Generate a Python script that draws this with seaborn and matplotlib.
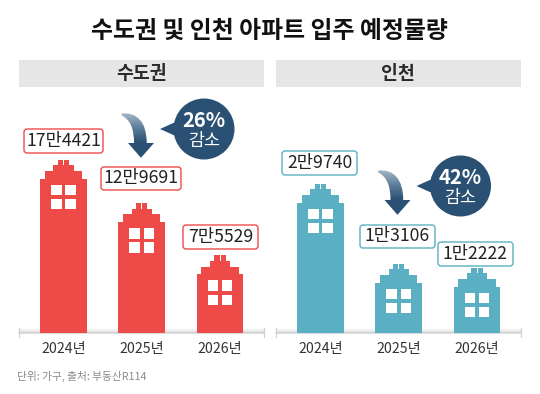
import numpy as np
import pandas as pd
import matplotlib
matplotlib.use("Agg")
import matplotlib.pyplot as plt
from matplotlib.colors import LinearSegmentedColormap
from matplotlib.patches import Circle, FancyBboxPatch, PathPatch, Polygon, Rectangle
from matplotlib.path import Path
from matplotlib.transforms import Affine2D
import seaborn as sns

years = ["2024년", "2025년", "2026년"]
capital_values = [174421, 129691, 75529]
capital_labels = ["17만4421", "12만9691", "7만5529"]
incheon_values = [29740, 13106, 12222]
incheon_labels = ["2만9740", "1만3106", "1만2222"]
panel_names = ["수도권", "인천"]
drop_labels = ["26%", "42%"]
title = "수도권 및 인천 아파트 입주 예정물량"
source = "단위: 가구, 출처: 부동산R114"

RED, TEAL, NAVY = "#EE4B48", "#5AB0C2", "#2A5173"
FONT = ["Noto Sans CJK KR", "DejaVu Sans"]
W, H = 540, 394

sns.set_theme(style="white")
plt.rcParams["font.family"] = FONT
fig = plt.figure(figsize=(W / 100, H / 100), dpi=100, facecolor="white")


def px_axes(x0, y0, x1, y1, **kw):
    return fig.add_axes([x0 / W, 1 - y1 / H, (x1 - x0) / W, (y1 - y0) / H], **kw)


def building(ax, cx, value):
    """Stepped roof and windows, cut from the bar top in pixel offsets."""
    ox, oy = ax.transData.transform((cx, value))
    tr = Affine2D().scale(1, -1).translate(ox, oy)
    kw = dict(fc="white", ec="white", lw=0, transform=tr, zorder=5)
    # (half-width kept, y start, y end) of each roof step
    for hw, y0, y1 in [(5.6, -1, 5.6), (10.2, 5.6, 11.4), (18.6, 11.4, 19)]:
        for s in (-1, 1):
            ax.add_patch(Rectangle((s * hw, y0), s * (24.5 - hw), y1 - y0, **kw))
    ax.add_patch(Rectangle((-0.5, -1), 1, 6.6, **kw))
    for wx in (-12.3, 1.8):
        for wy in (25.3, 39.4):
            ax.add_patch(Rectangle((wx, wy), 10.6, 10.3, **kw))


def panel(x0, names, values, color, ylim):
    ax = px_axes(x0, 88, x0 + 245, 333)
    df = pd.DataFrame({"year": names, "value": values})
    sns.barplot(data=df, x="year", y="value", color=color, saturation=1,
                width=0.6, ax=ax, zorder=3)
    ax.set_xlim(-0.569, 2.562)
    ax.set_ylim(*ylim)
    for p, v in zip(ax.patches, values):
        p.set_y(ylim[0])
        p.set_height(v - ylim[0])
        p.set_linewidth(0)
    ax.patch.set_alpha(0)
    ax.set(xlabel="", ylabel="", yticks=[])
    for s in ("top", "left", "right"):
        ax.spines[s].set_visible(False)
    ax.spines["bottom"].set_color("#D2D2D2")
    ax.spines["bottom"].set_linewidth(1.1)
    ax.tick_params(axis="x", length=0, pad=6.5, labelsize=10.2, labelcolor="#333333")
    fig.canvas.draw()
    for i, v in enumerate(values):
        building(ax, i, v)
    return ax


# shadow behind the baselines and panel headers go on a background layer
bg = px_axes(0, 0, W, H, zorder=0)
bg.set_xlim(0, W)
bg.set_ylim(H, 0)
bg.axis("off")
shadow = LinearSegmentedColormap.from_list("s", ["#FFFFFF", "#DADADA"])
for x0 in (19, 276):
    bg.add_patch(Rectangle((x0, 60), 245, 27, fc="#E6E6E6", lw=0))
    bg.imshow(np.linspace(0, 1, 16).reshape(-1, 1), cmap=shadow, aspect="auto",
              extent=(x0, x0 + 245, 333, 328), zorder=1)
    for x in (x0, x0 + 245):
        bg.plot([x, x], [328, 337], color="#D2D2D2", lw=0.9, zorder=2)
bg.set_xlim(0, W)
bg.set_ylim(H, 0)

panel(19, years, capital_values, RED, (-5185, 248859))
panel(276, years, incheon_values, TEAL, (-1376, 49698))

ov = px_axes(0, 0, W, H, zorder=10)
ov.patch.set_alpha(0)
ov.axis("off")

ov.text(269.5, 30.5, title, ha="center", va="center", fontsize=17.2,
        fontweight="bold", color="#111111")
ov.text(141.5, 73.5, panel_names[0], ha="center", va="center", fontsize=13.2,
        fontweight="bold", color="#2A2A2A")
ov.text(398, 73.5, panel_names[1], ha="center", va="center", fontsize=13.2,
        fontweight="bold", color="#2A2A2A")
ov.text(17, 376, source, ha="left", va="center", fontsize=7.7, color="#8A8A8A")

boxes = [
    (capital_labels[0], 24, 129, 103, 153, RED),
    (capital_labels[1], 101, 167, 181, 190, RED),
    (capital_labels[2], 183, 225, 258, 249, RED),
    (incheon_labels[0], 282, 151, 357, 175, TEAL),
    (incheon_labels[1], 360, 225, 435, 248, TEAL),
    (incheon_labels[2], 438, 242, 513, 266, TEAL),
]
for text, x0, y0, x1, y1, c in boxes:
    ov.add_patch(FancyBboxPatch((x0 + 2, y0 + 2), x1 - x0 - 4, y1 - y0 - 4,
                                boxstyle="round,pad=2,rounding_size=3",
                                fc="white", ec=c, lw=1.0, zorder=6))
    ov.text((x0 + x1) / 2, (y0 + y1) / 2 - 0.3, text, ha="center", va="center",
            fontsize=12.7, color="#222222", zorder=7)

grad = LinearSegmentedColormap.from_list("g", ["#A9BAC9", "#5F7F9B", NAVY, NAVY])
for (dx, dy), drop in zip([(0, 0), (256.5, 57)], drop_labels):
    verts = [(121.7, 113.5), (137, 112), (146.7, 122), (146.7, 143),
             (154, 143), (141, 157.8), (128, 143), (134, 143),
             (134, 130), (131, 120), (121.7, 115.5), (121.7, 113.5)]
    codes = [Path.MOVETO, Path.CURVE4, Path.CURVE4, Path.CURVE4,
             Path.LINETO, Path.LINETO, Path.LINETO, Path.LINETO,
             Path.CURVE4, Path.CURVE4, Path.CURVE4, Path.CLOSEPOLY]
    path = Path([(x + dx, y + dy) for x, y in verts], codes)
    clip = PathPatch(path, fc="none", ec="none", transform=ov.transData)
    ov.add_patch(clip)
    im = ov.imshow(np.linspace(0, 1, 64).reshape(-1, 1), cmap=grad, aspect="auto",
                   extent=(120 + dx, 156 + dx, 158 + dy, 112 + dy), zorder=4)
    im.set_clip_path(clip)

    ov.add_patch(Circle((204 + dx, 129 + dy), 30.5, fc=NAVY, ec="none", zorder=4))
    ov.add_patch(Polygon([(160 + dx, 129 + dy), (180 + dx, 120 + dy), (180 + dx, 138 + dy)],
                         fc=NAVY, ec="none", zorder=4))
    ov.text(204 + dx, 120.5 + dy, drop, ha="center", va="center", fontsize=14.5,
            fontweight="bold", color="white", zorder=5)
    ov.text(204 + dx, 141 + dy, "감소", ha="center", va="center", fontsize=12.5,
            color="white", zorder=5)

ov.set_xlim(0, W)
ov.set_ylim(H, 0)

fig.savefig("out.png", dpi=100, facecolor="white")
